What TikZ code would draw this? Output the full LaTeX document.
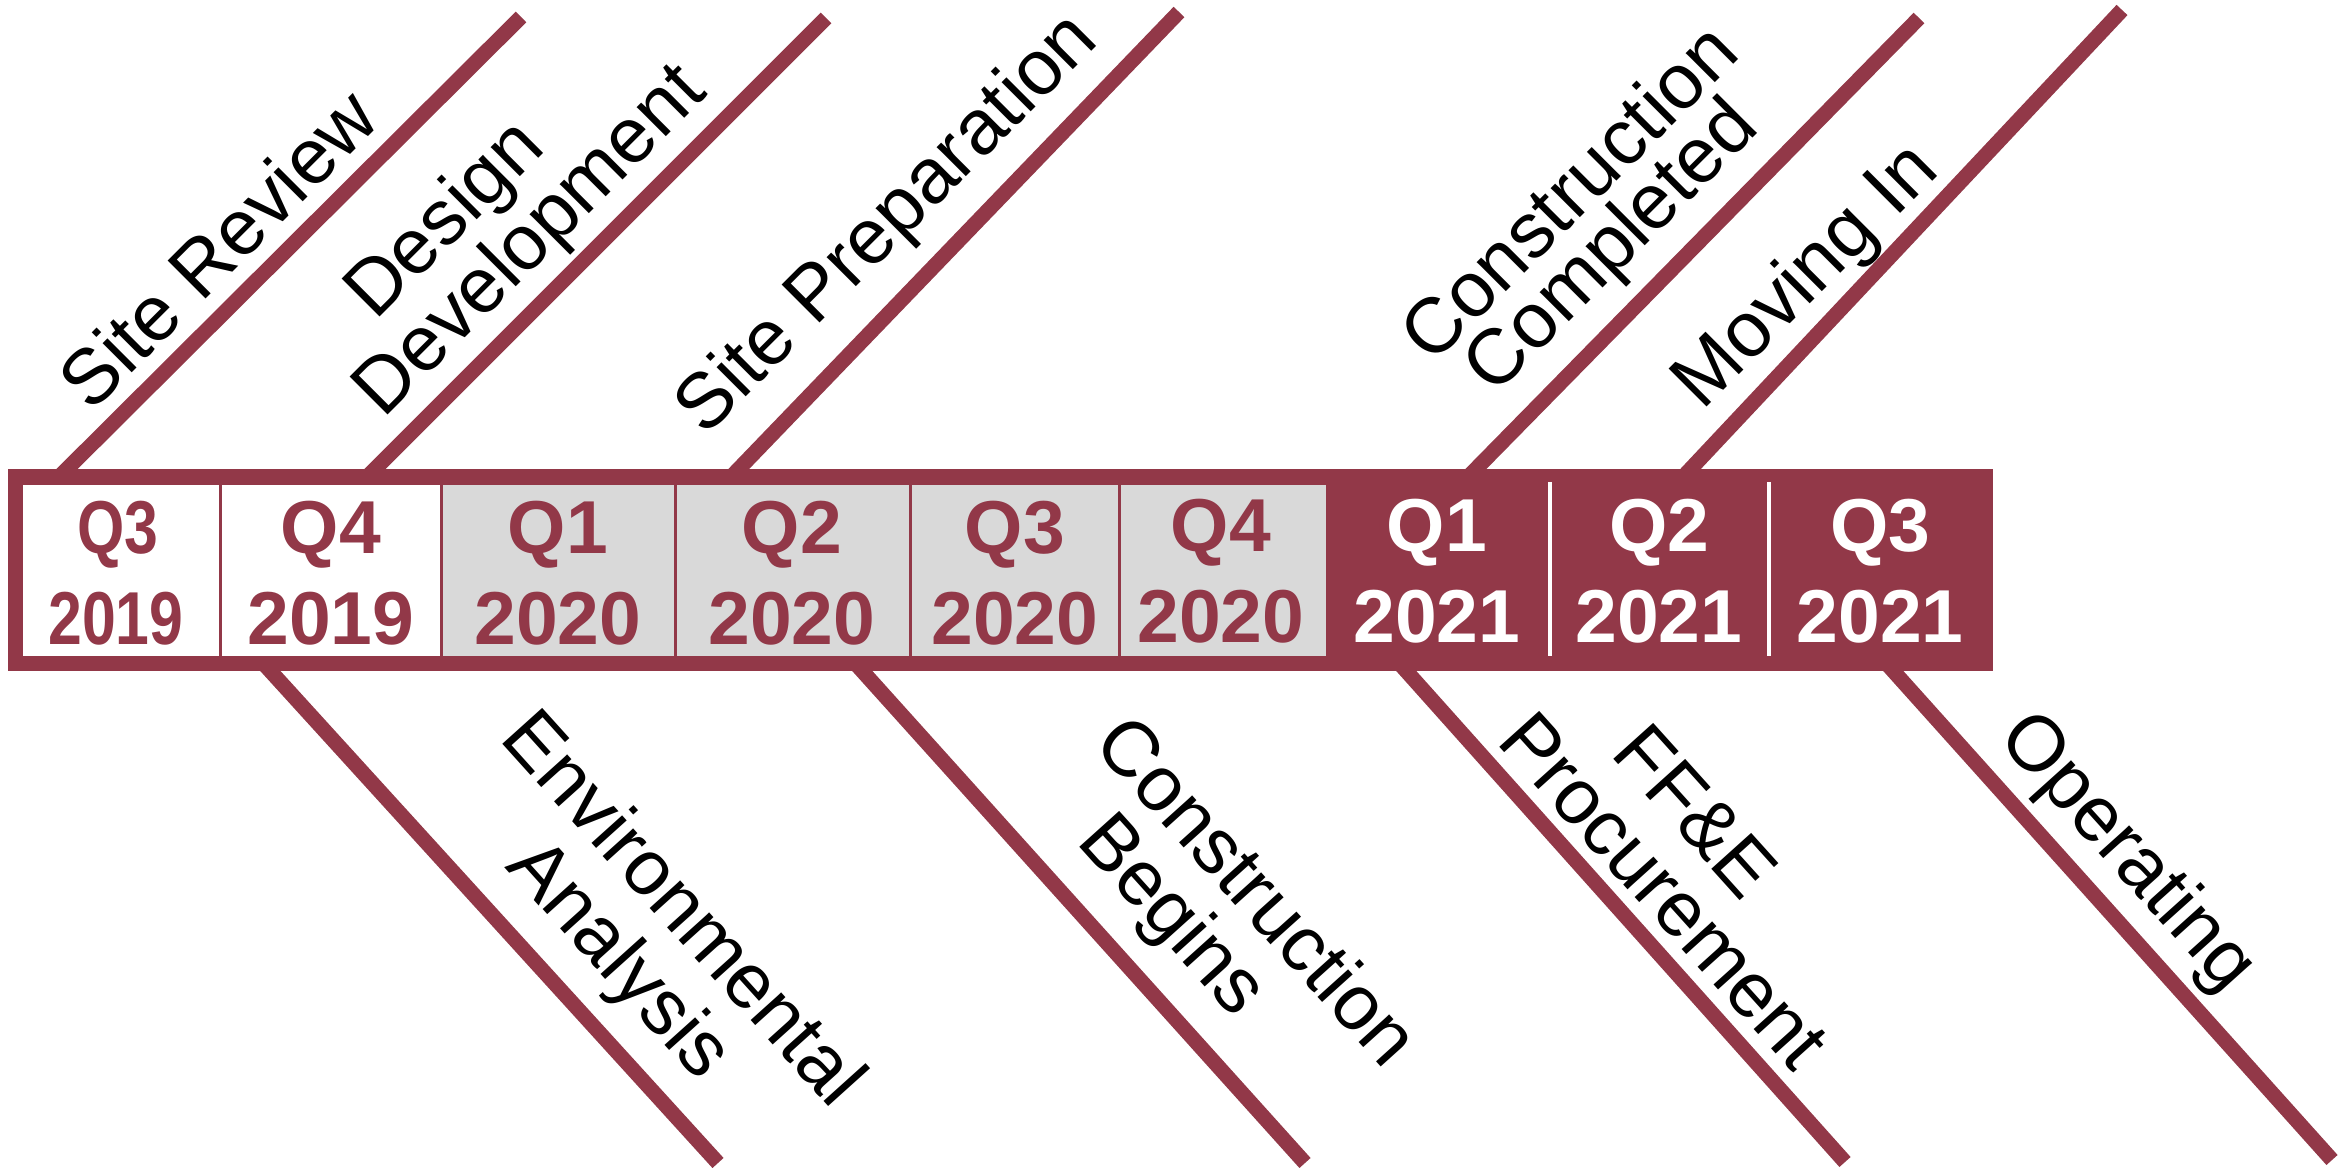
\documentclass[tikz,border=0pt]{standalone}
\usepackage{fontspec}
\setmainfont{Liberation Sans}
\definecolor{maroon}{HTML}{923848}
\definecolor{cellgray}{HTML}{D9D9D9}
\tikzset{
  spoke/.style={draw=maroon, line width=4.5pt},
  lbl/.style={font=\fontsize{23.4}{28}\selectfont, text=black, inner sep=0pt, anchor=base},
  toplbl/.style={lbl, rotate=45},
  botlbl/.style={lbl, rotate=-48},
  qtxt/.style={font=\fontsize{22.5}{27}\selectfont\bfseries, inner sep=0pt, anchor=base},
  cellbox/.style={rectangle, inner sep=0pt, draw=none, minimum height=51.3pt},
  divider/.style={draw=white, line width=1.2pt},
}
\begin{document}
\begin{tikzpicture}[x=0.3pt, y=-0.3pt]
\useasboundingbox (0,0) rectangle (2352,1168);
% spokes
\coordinate (t1a) at (60,476);   \coordinate (t1b) at (521,17);
\coordinate (t2a) at (368,476);  \coordinate (t2b) at (826,18);
\coordinate (t3a) at (732,476);  \coordinate (t3b) at (1179,12);
\coordinate (t4a) at (1469,476); \coordinate (t4b) at (1919,18);
\coordinate (t5a) at (1684,476); \coordinate (t5b) at (2122,10);
\coordinate (b1a) at (264,664);  \coordinate (b1b) at (718,1163);
\coordinate (b2a) at (856,664);  \coordinate (b2b) at (1305,1163);
\coordinate (b3a) at (1400,664); \coordinate (b3b) at (1845,1162);
\coordinate (b4a) at (1887,664); \coordinate (b4b) at (2332,1160);
\foreach \s in {t1,t2,t3,t4,t5,b1,b2,b3,b4} \draw[spoke] (\s a) -- (\s b);
% bar
\node[rectangle, fill=maroon, inner sep=0pt, minimum width=595.5pt, minimum height=60.6pt] (bar) at (1000.5,570) {};
\node[cellbox, fill=white, minimum width=58.8pt] (c1) at (121,570.5) {};
\node[cellbox, fill=white, minimum width=65.4pt] (c2) at (331,570.5) {};
\node[cellbox, fill=cellgray, minimum width=69.3pt] (c3) at (558.5,570.5) {};
\node[cellbox, fill=cellgray, minimum width=69.6pt] (c4) at (793,570.5) {};
\node[cellbox, fill=cellgray, minimum width=61.8pt] (c5) at (1015,570.5) {};
\node[cellbox, fill=cellgray, minimum width=61.5pt] (c6) at (1223.5,570.5) {};
\coordinate (d1a) at (1550,482); \coordinate (d1b) at (1550,656);
\coordinate (d2a) at (1769,482); \coordinate (d2b) at (1769,656);
\draw[divider] (d1a) -- (d1b);
\draw[divider] (d2a) -- (d2b);
% quarter labels
\node[qtxt, text=maroon] (q1a) at (118,554) {\scalebox{0.81}[1]{Q3}};
\node[qtxt, text=maroon] (q1b) at (116,645) {\scalebox{0.81}[1]{2019}};
\node[qtxt, text=maroon] (q2a) at (331,554) {Q4};
\node[qtxt, text=maroon] (q2b) at (331,645) {2019};
\node[qtxt, text=maroon] (q3a) at (558,554) {Q1};
\node[qtxt, text=maroon] (q3b) at (558,645) {2020};
\node[qtxt, text=maroon] (q4a) at (792,554) {Q2};
\node[qtxt, text=maroon] (q4b) at (792,645) {2020};
\node[qtxt, text=maroon] (q5a) at (1015,554) {Q3};
\node[qtxt, text=maroon] (q5b) at (1015,645) {2020};
\node[qtxt, text=maroon] (q6a) at (1221,552) {Q4};
\node[qtxt, text=maroon] (q6b) at (1221,643) {2020};
\node[qtxt, text=white] (q7a) at (1437,552) {Q1};
\node[qtxt, text=white] (q7b) at (1437,643) {2021};
\node[qtxt, text=white] (q8a) at (1659,552) {Q2};
\node[qtxt, text=white] (q8b) at (1659,643) {2021};
\node[qtxt, text=white] (q9a) at (1880,552) {Q3};
\node[qtxt, text=white] (q9b) at (1880,643) {2021};
% milestone labels
\node[toplbl] (sr) at (237,268) {Site Review};
\node[toplbl] (dd1) at (461,236) {Design};
\node[toplbl] (dd2) at (546,257) {Development};
\node[toplbl] (sp) at (903,240) {Site Preparation};
\node[toplbl] (cc1) at (1587,211) {Construction};
\node[toplbl] (cc2) at (1628,263) {Completed};
\node[toplbl] (mi) at (1822,292) {Moving In};
\node[botlbl] (ea1) at (665,925) {Environmental};
\node[botlbl] (ea2) at (602,975) {Analysis};
\node[botlbl] (cb1) at (1238,908) {Construction};
\node[botlbl] (cb2) at (1155,931) {Begins};
\node[botlbl] (ff1) at (1676,829) {FF\&E};
\node[botlbl] (ff2) at (1645,908) {Procurement};
\node[botlbl] (op) at (2111,867) {Operating};
\end{tikzpicture}
\end{document}
